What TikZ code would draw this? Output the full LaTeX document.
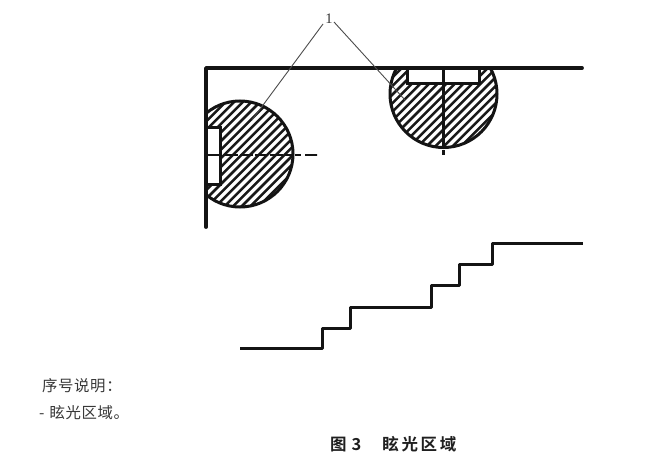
\documentclass[tikz,border=0pt]{standalone}
\usepackage{fontspec}
\setmainfont{Liberation Serif}
\newfontfamily\cjk[LetterSpace=4]{Noto Sans CJK SC}
\newfontfamily\cjkb[LetterSpace=16,BoldFont={Noto Sans CJK SC Bold}]{Noto Sans CJK SC}
\tikzset{
  wall/.style={line width=3.8pt,line cap=round,line join=round,color=black!92},
  outline/.style={line width=3pt,color=black!92},
  hatchline/.style={line width=2.5pt,color=black!90},
  axis/.style={line width=2.4pt,color=black!92},
  stair/.style={line width=3pt,line join=round,color=black!92},
  leader/.style={line width=0.9pt,color=black!70},
  notetext/.style={font=\cjk\fontsize{15.4}{17}\selectfont,color=black!78,anchor=west,inner sep=0pt},
  captext/.style={font=\cjkb\bfseries\fontsize{16.5}{18}\selectfont,color=black!88,anchor=west,inner sep=0pt}
}
\begin{document}
\begin{tikzpicture}[x=1pt,y=-1pt]
\useasboundingbox (0,0) rectangle (660,460);
\fill[white] (0,0) rectangle (660,460);

% left lens
\begin{scope}
  \clip (206,100) rectangle (300,208);
  \clip (240,154) circle (53);
  \foreach \k in {0,...,24} {
    \draw[hatchline] (190+\k*8.6,215) -- ++(130,-130);
  }
  \foreach \k in {1,...,24} {
    \draw[hatchline] (190-\k*8.6,215) -- ++(130,-130);
  }
\end{scope}
\fill[white] (206,127) rectangle (220,184);
\begin{scope}
  \clip (206,95) rectangle (300,212);
  \draw[outline] (240,154) circle (53);
\end{scope}
\draw[outline] (206,127) -- (220,127) -- (220,184) -- (206,184);

% right lens
\begin{scope}
  \clip (385,68) rectangle (502,150);
  \clip (443.5,94) circle (53.5);
  \foreach \k in {0,...,30} {
    \draw[hatchline] (370+\k*8.6,160) -- ++(130,-130);
  }
  \foreach \k in {1,...,12} {
    \draw[hatchline] (370-\k*8.6,160) -- ++(130,-130);
  }
\end{scope}
\fill[white] (407,68) rectangle (479,83);
\begin{scope}
  \clip (385,68) rectangle (502,152);
  \draw[outline] (443.5,94) circle (53.5);
\end{scope}
\draw[outline] (407,68) -- (407,83) -- (479,83) -- (479,68);

% axes
\coordinate (la) at (206,155);
\coordinate (lb) at (293,155);
\coordinate (lc) at (317,155);
\draw[axis] (la) -- (220,155);
\draw[axis,dash pattern=on 13pt off 2pt] (225,155) -- (lb);
\draw[axis,dash pattern=on 6pt off 4pt on 12pt off 0pt] (295,155) -- (lc);
\coordinate (ra) at (443.5,68);
\coordinate (rb) at (443.5,146);
\coordinate (rc) at (443.5,155);
\draw[axis] (ra) -- (rb);
\draw[axis] (443.5,150) -- (rc);

% walls
\coordinate (w1) at (206,227);
\coordinate (w2) at (206,68);
\coordinate (w3) at (582,68);
\draw[wall] (w1) -- (w2) -- (w3);

% leaders
\node[inner sep=0pt,font=\fontsize{14.5}{15}\selectfont,color=black!80] (one) at (329,19) {1};
\coordinate (t1) at (252,120);
\coordinate (t2) at (405,100);
\draw[leader] (323,24) -- (t1);
\draw[leader] (334,22) -- (t2);

% stairs
\draw[stair] (240,348) -- (322,348) -- (322,328) -- (350,328) -- (350,307)
  -- (431,307) -- (431,285) -- (459,285) -- (459,264) -- (492,264)
  -- (492,243) -- (583,243);

% text
\node[notetext] (n1) at (42,386) {序号说明：};
\node[notetext] (n2) at (39,413) {-\hspace{5pt}眩光区域。};
\node[captext] (c1) at (330,444) {图\hspace{5pt}3\hspace{21pt}眩光区域};
\end{tikzpicture}
\end{document}
